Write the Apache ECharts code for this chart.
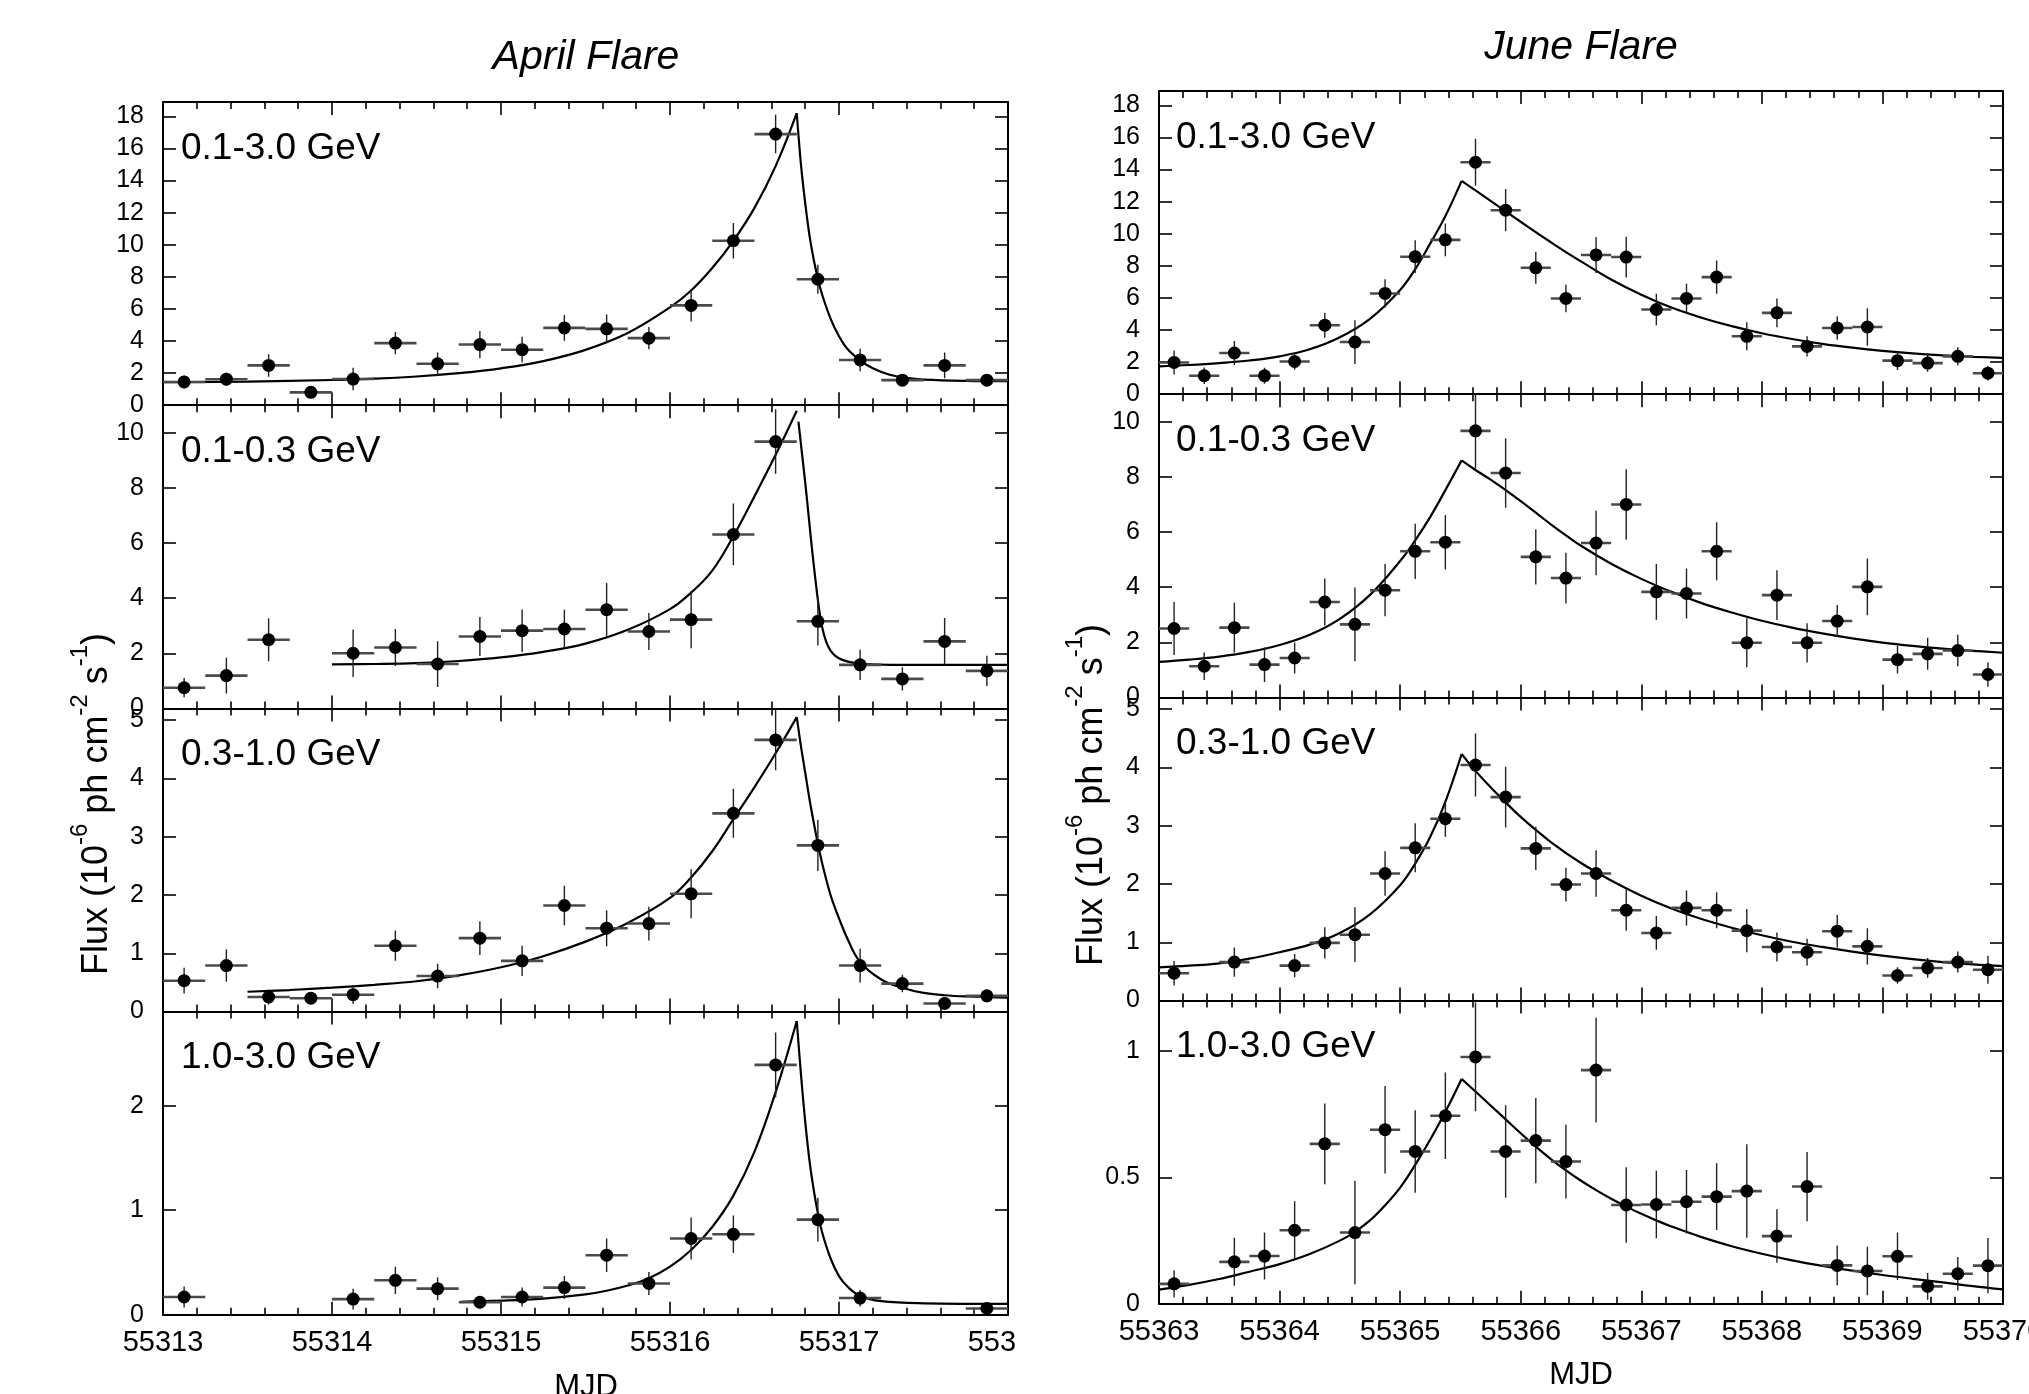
<!DOCTYPE html>
<html><head><meta charset="utf-8">
<script src="https://cdn.jsdelivr.net/npm/echarts@6/dist/echarts.min.js"></script>
<style>html,body{margin:0;padding:0;background:#fff}#c{width:2029px;height:1394px}</style>
</head><body><div id="c"></div>
<script>
// ---------- DATA ----------
const flareTitles = ['April Flare', 'June Flare'];
const bandLabels = ['0.1-3.0 GeV', '0.1-0.3 GeV', '0.3-1.0 GeV', '1.0-3.0 GeV'];
const xAxisTitle = 'MJD';
const binHalfWidth = 0.125;

const aprT = [55313.125,55313.375,55313.625,55313.875,55314.125,55314.375,55314.625,55314.875,55315.125,55315.375,
              55315.625,55315.875,55316.125,55316.375,55316.625,55316.875,55317.125,55317.375,55317.625,55317.875];
const apr_all     = [1.45,1.62,2.48,0.80,1.63,3.87,2.58,3.78,3.46,4.82,4.76,4.18,6.22,10.25,16.9,7.85,2.82,1.56,2.48,1.56];
const apr_all_err = [0.40,0.40,0.70,0.30,0.70,0.70,0.70,0.85,0.80,0.80,0.90,0.70,1.00,1.10,1.20,0.90,0.70,0.35,0.80,0.35];
const apr_lo      = [0.75,1.19,2.49,null,2.00,2.21,1.61,2.61,2.82,2.88,3.58,2.79,3.22,6.31,9.68,3.16,1.58,1.07,2.43,1.36];
const apr_lo_err  = [0.35,0.65,0.78,null,0.86,0.67,0.83,0.71,0.77,0.70,0.97,0.67,1.04,1.12,1.17,0.88,0.55,0.42,0.85,0.55];
const apr_mid     = [0.53,0.79,0.25,0.23,0.29,1.13,0.61,1.26,0.87,1.82,1.43,1.51,2.02,3.40,4.66,2.85,0.79,0.48,0.14,0.27];
const apr_mid_err = [0.22,0.28,0.13,0.10,0.16,0.26,0.21,0.29,0.26,0.34,0.31,0.29,0.42,0.42,0.52,0.44,0.29,0.15,0.08,0.11];
const apr_hi      = [0.17,null,null,null,0.15,0.33,0.25,0.12,0.17,0.26,0.57,0.30,0.73,0.77,2.39,0.91,0.16,null,null,0.06];
const apr_hi_err  = [0.10,null,null,null,0.10,0.13,0.11,0.06,0.09,0.11,0.16,0.11,0.20,0.18,0.31,0.21,0.08,null,null,0.06];

const junT = [55363.125,55363.375,55363.625,55363.875,55364.125,55364.375,55364.625,55364.875,55365.125,55365.375,
              55365.625,55365.875,55366.125,55366.375,55366.625,55366.875,55367.125,55367.375,55367.625,55367.875,
              55368.125,55368.375,55368.625,55368.875,55369.125,55369.375,55369.625,55369.875];
const jun_all     = [1.98,1.15,2.57,1.15,2.04,4.30,3.25,6.28,8.57,9.62,14.46,11.47,7.88,5.97,8.68,8.55,5.28,5.97,7.30,3.61,5.07,2.98,4.13,4.19,2.09,1.94,2.36,1.31];
const jun_all_err = [0.75,0.52,0.75,0.50,0.52,0.78,1.36,0.89,1.02,1.02,1.46,1.32,1.00,0.86,1.12,1.27,0.98,0.91,1.04,0.87,0.90,0.63,0.73,1.17,0.58,0.54,0.56,0.45];
const jun_lo      = [2.50,1.13,2.53,1.19,1.43,3.46,2.65,3.89,5.30,5.63,9.67,8.14,5.10,4.33,5.60,7.00,3.83,3.77,5.30,1.98,3.71,1.98,2.77,4.01,1.37,1.58,1.70,0.83];
const jun_lo_err  = [0.96,0.50,0.90,0.63,0.56,0.85,1.34,0.95,1.00,0.99,1.37,1.26,1.00,0.92,1.17,1.28,1.01,0.91,1.05,0.89,0.90,0.71,0.58,1.03,0.50,0.58,0.57,0.44];
const jun_mid     = [0.47,null,0.66,null,0.60,0.99,1.13,2.18,2.62,3.12,4.04,3.49,2.61,1.99,2.18,1.55,1.16,1.59,1.55,1.20,0.92,0.83,1.19,0.93,0.43,0.56,0.66,0.53];
const jun_mid_err = [0.21,null,0.25,null,0.20,0.27,0.47,0.38,0.42,0.31,0.54,0.52,0.37,0.29,0.40,0.35,0.29,0.30,0.31,0.37,0.25,0.23,0.28,0.31,0.14,0.17,0.18,0.24];
const jun_hi      = [0.079,null,0.166,0.189,0.291,0.633,0.282,0.689,0.603,0.744,0.977,0.603,0.646,0.563,0.925,0.391,0.393,0.404,0.424,0.446,0.268,0.464,0.152,0.130,0.188,0.069,0.119,0.151];
const jun_hi_err  = [0.054,null,0.095,0.093,0.115,0.160,0.205,0.173,0.163,0.171,0.215,0.183,0.169,0.146,0.207,0.149,0.134,0.126,0.132,0.185,0.106,0.137,0.079,0.096,0.094,0.053,0.066,0.109];

// fitted profiles, rising and decaying branches
const aprFitAllRise  = [[55313.0,1.43],[55313.5,1.47],[55314.0,1.57],[55314.25,1.66],[55314.5,1.79],[55314.75,2.0],[55315.0,2.3],[55315.25,2.75],[55315.5,3.45],[55315.75,4.5],[55316.0,6.1],[55316.125,7.15],[55316.25,8.55],[55316.375,10.25],[55316.5,12.3],[55316.625,14.9],[55316.75,18.2]];
const aprFitAllDecay = [[55316.75,18.2],[55316.775,15.0],[55316.8,12.6],[55316.825,10.6],[55316.85,9.1],[55316.875,7.9],[55316.9,6.9],[55316.95,5.4],[55317.0,4.3],[55317.05,3.5],[55317.125,2.8],[55317.2,2.3],[55317.3,1.9],[55317.4,1.7],[55317.5,1.6],[55317.75,1.52],[55318.0,1.5]];
const aprFitLoRise   = [[55314.0,1.6],[55314.25,1.61],[55314.5,1.64],[55314.75,1.72],[55315.0,1.85],[55315.25,2.05],[55315.5,2.35],[55315.75,2.85],[55316.0,3.6],[55316.125,4.2],[55316.25,5.0],[55316.375,6.25],[55316.5,7.7],[55316.625,9.2],[55316.75,10.8]];
const aprFitLoDecay  = [[55316.76,10.4],[55316.78,9.3],[55316.8,8.2],[55316.82,7.0],[55316.84,5.8],[55316.86,4.7],[55316.88,3.7],[55316.9,2.95],[55316.925,2.4],[55316.95,2.1],[55316.98,1.9],[55317.02,1.76],[55317.08,1.66],[55317.15,1.61],[55317.3,1.58],[55317.6,1.58],[55318.0,1.58]];
const aprFitMidRise  = [[55313.5,0.34],[55313.75,0.37],[55314.0,0.41],[55314.25,0.46],[55314.5,0.52],[55314.75,0.62],[55315.0,0.76],[55315.25,0.95],[55315.5,1.2],[55315.75,1.52],[55316.0,1.95],[55316.125,2.3],[55316.25,2.75],[55316.375,3.3],[55316.5,3.85],[55316.625,4.43],[55316.75,5.05]];
const aprFitMidDecay = [[55316.75,5.05],[55316.775,4.55],[55316.8,4.1],[55316.825,3.65],[55316.85,3.25],[55316.875,2.88],[55316.9,2.55],[55316.95,2.0],[55317.0,1.6],[55317.05,1.25],[55317.125,0.85],[55317.25,0.55],[55317.375,0.41],[55317.5,0.32],[55317.625,0.28],[55317.75,0.26],[55318.0,0.24]];
const aprFitHiRise   = [[55314.76,0.125],[55315.0,0.135],[55315.25,0.155],[55315.5,0.195],[55315.625,0.23],[55315.75,0.28],[55315.875,0.35],[55316.0,0.46],[55316.125,0.62],[55316.25,0.84],[55316.375,1.14],[55316.5,1.56],[55316.625,2.13],[55316.75,2.81]];
const aprFitHiDecay  = [[55316.75,2.81],[55316.775,2.3],[55316.8,1.85],[55316.825,1.48],[55316.85,1.2],[55316.875,0.97],[55316.9,0.79],[55316.95,0.54],[55317.0,0.37],[55317.05,0.27],[55317.125,0.18],[55317.25,0.13],[55317.5,0.11],[55318.0,0.105]];

const junFitAllRise  = [[55363.0,1.73],[55363.25,1.82],[55363.5,1.94],[55363.75,2.1],[55364.0,2.36],[55364.25,2.8],[55364.5,3.55],[55364.75,4.7],[55365.0,6.5],[55365.125,7.8],[55365.25,9.4],[55365.375,11.1],[55365.51,13.3]];
const junFitAllDecay = [[55365.51,13.3],[55365.625,12.7],[55365.75,12.05],[55365.875,11.4],[55366.0,10.75],[55366.125,10.1],[55366.25,9.47],[55366.375,8.86],[55366.5,8.28],[55366.75,7.15],[55367.0,6.2],[55367.25,5.4],[55367.5,4.77],[55367.75,4.24],[55368.0,3.8],[55368.25,3.44],[55368.5,3.14],[55368.75,2.9],[55369.0,2.7],[55369.25,2.54],[55369.5,2.42],[55369.75,2.33],[55370.0,2.26]];
const junFitLoRise   = [[55363.0,1.29],[55363.25,1.37],[55363.5,1.48],[55363.75,1.65],[55364.0,1.9],[55364.25,2.27],[55364.5,2.85],[55364.75,3.72],[55365.0,4.95],[55365.125,5.7],[55365.25,6.55],[55365.375,7.52],[55365.51,8.6]];
const junFitLoDecay  = [[55365.51,8.6],[55365.625,8.25],[55365.75,7.9],[55365.875,7.52],[55366.0,7.12],[55366.125,6.7],[55366.25,6.28],[55366.375,5.88],[55366.5,5.5],[55366.75,4.85],[55367.0,4.3],[55367.25,3.83],[55367.5,3.42],[55367.75,3.08],[55368.0,2.78],[55368.25,2.53],[55368.5,2.32],[55368.75,2.14],[55369.0,1.99],[55369.25,1.87],[55369.5,1.77],[55369.75,1.69],[55370.0,1.62]];
const junFitMidRise  = [[55363.0,0.57],[55363.25,0.6],[55363.5,0.64],[55363.75,0.72],[55364.0,0.83],[55364.25,0.96],[55364.5,1.16],[55364.75,1.48],[55365.0,1.98],[55365.125,2.35],[55365.25,2.81],[55365.375,3.41],[55365.51,4.23]];
const junFitMidDecay = [[55365.51,4.23],[55365.625,3.94],[55365.75,3.66],[55365.875,3.4],[55366.0,3.15],[55366.25,2.72],[55366.5,2.36],[55366.75,2.06],[55367.0,1.8],[55367.25,1.58],[55367.5,1.4],[55367.75,1.25],[55368.0,1.12],[55368.25,1.01],[55368.5,0.92],[55368.75,0.84],[55369.0,0.77],[55369.25,0.71],[55369.5,0.66],[55369.75,0.62],[55370.0,0.59]];
const junFitHiRise   = [[55363.0,0.056],[55363.25,0.075],[55363.5,0.098],[55363.75,0.127],[55364.0,0.157],[55364.25,0.197],[55364.5,0.25],[55364.625,0.285],[55364.75,0.33],[55364.875,0.39],[55365.0,0.46],[55365.125,0.55],[55365.25,0.65],[55365.375,0.76],[55365.51,0.89]];
const junFitHiDecay  = [[55365.51,0.89],[55365.625,0.84],[55365.75,0.785],[55365.875,0.73],[55366.0,0.675],[55366.125,0.622],[55366.25,0.573],[55366.375,0.528],[55366.5,0.487],[55366.625,0.45],[55366.75,0.416],[55366.875,0.385],[55367.0,0.356],[55367.125,0.33],[55367.25,0.306],[55367.5,0.264],[55367.75,0.228],[55368.0,0.198],[55368.25,0.172],[55368.5,0.15],[55368.75,0.131],[55369.0,0.114],[55369.25,0.099],[55369.5,0.085],[55369.75,0.07],[55370.0,0.057]];

// axis ranges: [min, max, interval]
const aprXRange = [55313, 55318];
const junXRange = [55363, 55370];
const yRanges = [[0,18.9,2],[0,11,2],[0,5.2,1],[0,2.9,1], [0,18.9,2],[0,11,2],[0,5.2,1],[0,1.2,0.5]];

// ---------- LAYOUT ----------
const FONT = '"Liberation Sans", Arial, Helvetica, sans-serif';
const panelH = 303.2;
const leftCol  = {left:163,  width:845, top:102, labelX:181};
const rightCol = {left:1159, width:844, top:91,  labelX:1176};

const panels = [
  {col:leftCol,  row:0, x:aprXRange, t:aprT, v:apr_all, e:apr_all_err, rise:aprFitAllRise, decay:aprFitAllDecay},
  {col:leftCol,  row:1, x:aprXRange, t:aprT, v:apr_lo,  e:apr_lo_err,  rise:aprFitLoRise,  decay:aprFitLoDecay},
  {col:leftCol,  row:2, x:aprXRange, t:aprT, v:apr_mid, e:apr_mid_err, rise:aprFitMidRise, decay:aprFitMidDecay},
  {col:leftCol,  row:3, x:aprXRange, t:aprT, v:apr_hi,  e:apr_hi_err,  rise:aprFitHiRise,  decay:aprFitHiDecay},
  {col:rightCol, row:0, x:junXRange, t:junT, v:jun_all, e:jun_all_err, rise:junFitAllRise, decay:junFitAllDecay},
  {col:rightCol, row:1, x:junXRange, t:junT, v:jun_lo,  e:jun_lo_err,  rise:junFitLoRise,  decay:junFitLoDecay},
  {col:rightCol, row:2, x:junXRange, t:junT, v:jun_mid, e:jun_mid_err, rise:junFitMidRise, decay:junFitMidDecay},
  {col:rightCol, row:3, x:junXRange, t:junT, v:jun_hi,  e:jun_hi_err,  rise:junFitHiRise,  decay:junFitHiDecay}
];

const grids = [], xAxes = [], yAxes = [], series = [], graphics = [];
const lineBlack = {color:'#000', width:2};
const tickStyle = {color:'#000', width:1.6};

panels.forEach((p, i) => {
  const top = p.col.top + p.row * panelH;
  grids.push({left:p.col.left, top:top, width:p.col.width, height:panelH, containLabel:false, outerBoundsMode:'none'});
  const isBottom = p.row === 3;
  const [ymin, ymax, yint] = yRanges[i];
  const xBase = {
    type:'value', gridIndex:i, min:p.x[0], max:p.x[1], interval:1,
    axisLine:{show:true, onZero:false, lineStyle:lineBlack},
    axisTick:{show:true, inside:true, length:13, lineStyle:tickStyle},
    minorTick:{show:true, splitNumber:5, length:7, lineStyle:tickStyle},
    splitLine:{show:false}, minorSplitLine:{show:false}
  };
  xAxes.push(Object.assign({}, xBase, {position:'bottom',
    axisLabel:{show:isBottom, margin:14, fontSize:29, color:'#000', fontFamily:FONT,
      formatter: v => Number.isInteger(v) ? String(v) : ''}}));
  xAxes.push(Object.assign({}, xBase, {position:'top', axisLabel:{show:false}}));
  const yBase = {
    type:'value', gridIndex:i, min:ymin, max:ymax, interval:yint,
    axisLine:{show:true, onZero:false, lineStyle:lineBlack},
    axisTick:{show:true, inside:true, length:13, lineStyle:tickStyle},
    splitLine:{show:false}
  };
  yAxes.push(Object.assign({}, yBase, {position:'left',
    axisLabel:{show:true, margin:19, fontSize:25, color:'#000', fontFamily:FONT,
      formatter: v => { const k = v / yint; return Math.abs(k - Math.round(k)) < 1e-6 ? String(+v.toFixed(2)) : ''; }}}));
  yAxes.push(Object.assign({}, yBase, {position:'right', axisLabel:{show:false}}));

  // fitted curve
  [p.rise, p.decay].forEach(d => series.push({
    type:'line', xAxisIndex:2*i, yAxisIndex:2*i, data:d, showSymbol:false, symbol:'none',
    smooth:0.4, clip:true, lineStyle:{color:'#000', width:2.2}, z:3, silent:true
  }));

  // data points with error bars
  const pts = [];
  p.t.forEach((t, k) => { if (p.v[k] !== null) pts.push([t, p.v[k], p.e[k]]); });
  series.push({
    type:'custom', xAxisIndex:2*i, yAxisIndex:2*i, data:pts, clip:true, z:4, silent:true,
    renderItem: (params, api) => {
      const t = api.value(0), v = api.value(1), e = api.value(2);
      const c = api.coord([t, v]);
      const l = api.coord([t - binHalfWidth, v]), r = api.coord([t + binHalfWidth, v]);
      const lo = api.coord([t, v - e]), hi = api.coord([t, v + e]);
      return {type:'group', children:[
        {type:'line', shape:{x1:l[0], y1:l[1], x2:r[0], y2:r[1]}, style:{stroke:'#4a4a4a', lineWidth:2.6}},
        {type:'line', shape:{x1:lo[0], y1:lo[1], x2:hi[0], y2:hi[1]}, style:{stroke:'#222', lineWidth:1.4}},
        {type:'circle', shape:{cx:c[0], cy:c[1], r:6.5}, style:{fill:'#000'}}
      ]};
    }
  });

  // band label
  graphics.push({type:'text', left:p.col.labelX, top: top + 28,
    style:{text:bandLabels[p.row], fontSize:37, fontFamily:FONT, fill:'#000'}, z:10});
});

// titles
graphics.push({type:'text', x:586, y:58, style:{text:flareTitles[0], fontSize:41, fontStyle:'italic', fontFamily:FONT, fill:'#000', align:'center', verticalAlign:'middle', textAlign:'center', textVerticalAlign:'middle'}});
graphics.push({type:'text', x:1581, y:48, style:{text:flareTitles[1], fontSize:41, fontStyle:'italic', fontFamily:FONT, fill:'#000', align:'center', verticalAlign:'middle', textAlign:'center', textVerticalAlign:'middle'}});
// MJD
graphics.push({type:'text', x:586, y:1372, style:{text:xAxisTitle, fontSize:31, fontFamily:FONT, fill:'#000', align:'center', verticalAlign:'top', textAlign:'center', textVerticalAlign:'top'}});
graphics.push({type:'text', x:1581, y:1360, style:{text:xAxisTitle, fontSize:31, fontFamily:FONT, fill:'#000', align:'center', verticalAlign:'top', textAlign:'center', textVerticalAlign:'top'}});
// y-axis titles
const fluxRich = {
  a:{fontSize:36, fontFamily:FONT, fill:'#000', color:'#000', lineHeight:58},
  s:{fontSize:24, fontFamily:FONT, fill:'#000', color:'#000', lineHeight:24, verticalAlign:'top'}
};
const fluxText = '{a|Flux (10}{s|-6}{a| ph cm}{s|-2}{a| s}{s|-1}{a|)}';
[[97, 804], [1092, 795]].forEach(([x, y]) => graphics.push({type:'text', x:x, y:y, rotation:Math.PI/2,
  style:{text:fluxText, rich:fluxRich, align:'center', verticalAlign:'middle', textAlign:'center', textVerticalAlign:'middle'}}));
// crop of the left figure's last tick label, as in the source figure
graphics.push({type:'rect', shape:{x:1018, y:1318, width:80, height:76}, style:{fill:'#fff'}, z:100});

const chart = echarts.init(document.getElementById('c'), null, {renderer:'canvas'});
chart.setOption({
  backgroundColor:'#fff', animation:false,
  grid:grids, xAxis:xAxes, yAxis:yAxes, series:series, graphic:graphics
});
</script></body></html>
